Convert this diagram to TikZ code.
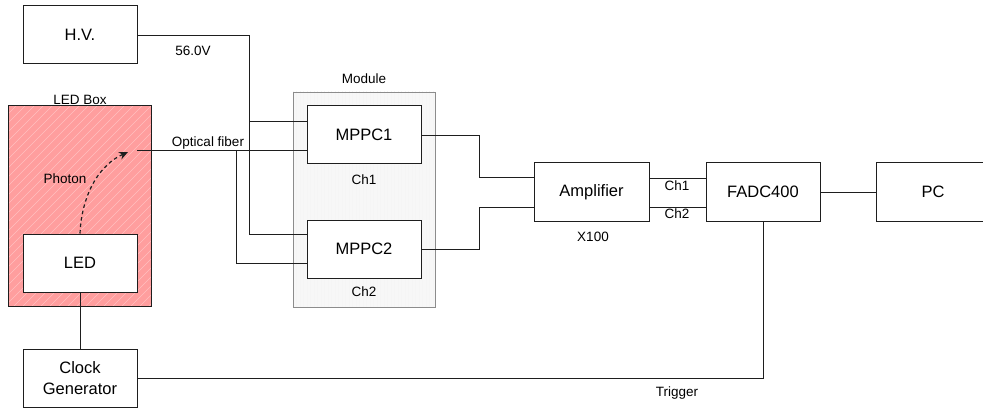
\documentclass[tikz,border=0pt]{standalone}
\usepackage{fontspec}
\setmainfont{Liberation Sans}
\usetikzlibrary{arrows.meta,calc}
\definecolor{ledred}{RGB}{255,158,158}
\definecolor{modfill}{RGB}{247,247,247}
\definecolor{modedge}{RGB}{140,140,140}
\definecolor{ln}{RGB}{30,30,30}
\tikzset{
  box/.style={draw=ln, line width=1pt, fill=white, minimum width=114pt, minimum height=58pt, inner sep=0pt, font=\fontsize{16.5}{19}\selectfont, align=center},
  lbl/.style={font=\fontsize{13.5}{16}\selectfont, inner sep=0pt},
  wire/.style={draw=ln, line width=0.9pt},
  ledboxst/.style={draw=ln, line width=1pt, fill=ledred, minimum width=143pt, minimum height=200pt, inner sep=0pt,
    path picture={\foreach \k in {-300,-291,...,300}{\draw[white, opacity=0.35, line width=0.5pt] ([xshift=\k pt]path picture bounding box.south west) -- ++(250pt,250pt);}}},
  modst/.style={draw=modedge, line width=0.9pt, fill=modfill, minimum width=142pt, minimum height=215pt, inner sep=0pt,
    path picture={\foreach \k in {0,3.5,...,145}{\draw[gray!8, line width=0.4pt] ([xshift=\k pt]path picture bounding box.south west) -- ++(0,220pt);}}},
}
\begin{document}
\begin{tikzpicture}[x=1pt,y=-1pt]
\useasboundingbox (0,0) rectangle (983,409);
\clip (0,0) rectangle (983,409);
% containers
\node[ledboxst] (ledbox) at (79.5,206) {};
\node[modst] (module) at (364,199.5) {};
% boxes
\node[box] (hv) at (80,35) {H.V.};
\node[box] (led) at (80,263) {LED};
\node[box, font=\fontsize{16.5}{21}\selectfont] (clock) at (80,378) {Clock\\Generator};
\node[box] (mppc1) at (364,135) {MPPC1};
\node[box] (mppc2) at (364,249) {MPPC2};
\node[box, minimum width=115pt] (amp) at (591.5,192) {Amplifier};
\node[box] (fadc) at (763,192) {FADC400};
\node[box] (pc) at (933,192) {PC};
% labels
\node[lbl] (lledbox) at (80,100) {LED Box};
\node[lbl] (lhv) at (193,51) {56.0V};
\node[lbl] (lfib) at (208,143) {Optical fiber};
\node[lbl] (lphot) at (65,179) {Photon};
\node[lbl] (lmod) at (364,79) {Module};
\node[lbl] (lch1) at (364,180) {Ch1};
\node[lbl] (lch2) at (364,292) {Ch2};
\node[lbl] (lx) at (593,237) {X100};
\node[lbl] (lach1) at (677,186) {Ch1};
\node[lbl] (lach2) at (677,214) {Ch2};
\node[lbl] (ltrig) at (677,393) {Trigger};
% coordinates
\coordinate (hvj) at (250,121);
\coordinate (fib) at (137,150);
\coordinate (fibj) at (236,150);
\coordinate (mj1) at (479,135);
\coordinate (mj2) at (479,249);
\coordinate (ph) at (128,152);
% HV
\draw[wire] (hv.east) -| ($(mppc2.west)+(-57,-15)$) -- ($(mppc2.west)+(0,-15)$);
\draw[wire] (hvj) -- ($(mppc1.west)+(0,-14)$);
% fiber
\draw[wire] (fib) -- ($(mppc1.west)+(0,15)$);
\draw[wire] (fibj) |- ($(mppc2.west)+(0,14)$);
% photon
\draw[ln, line width=1.2pt, dash pattern=on 3.5pt off 3pt, -{Stealth[length=9pt,width=8pt]}] (led.north) .. controls (81,205) and (93,168) .. (ph);
% LED - clock
\draw[wire] (led.south) -- (clock.north);
% MPPC - amp
\draw[wire] (mppc1.east) -- (mj1) |- ($(amp.west)+(0,-15)$);
\draw[wire] (mppc2.east) -- (mj2) |- ($(amp.west)+(0,15)$);
% amp - fadc
\draw[wire] ($(amp.east)+(0,-14)$) -- ($(fadc.west)+(0,-14)$);
\draw[wire] ($(amp.east)+(0,15)$) -- ($(fadc.west)+(0,15)$);
\draw[wire] (fadc.east) -- (pc.west);
% trigger
\draw[wire] (clock.east) -| (fadc.south);
\end{tikzpicture}
\end{document}
